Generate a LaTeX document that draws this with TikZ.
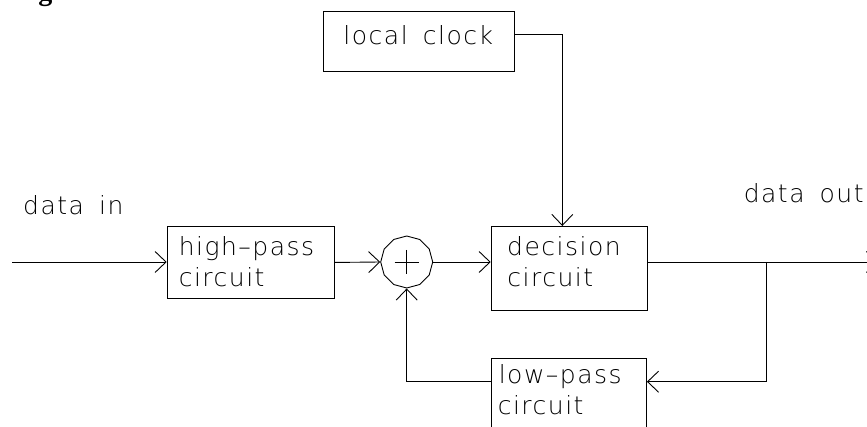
\documentclass[tikz,border=0pt]{standalone}
\usepackage{fontspec}
\usetikzlibrary{arrows.meta,shapes.geometric,calc}
\newfontfamily\cadfont{DejaVu Sans ExtraLight}[LetterSpace=6,WordSpace=1.6]
\newfontfamily\figfont{Liberation Serif}
\begin{document}
\begin{tikzpicture}[x=1pt,y=-1pt,line width=0.9pt,
  box/.style={draw,rectangle,inner sep=0pt,anchor=north west},
  lbl/.style={font=\cadfont\fontsize{25}{29}\selectfont,inner sep=0pt,anchor=base west},
  arr/.style={-{Straight Barb[length=11pt,width=21pt]}},
  sumnode/.style={draw,regular polygon,regular polygon sides=12,shape border rotate=15,minimum size=52pt,inner sep=0pt}]
\useasboundingbox (0,0) rectangle (867,427);
\clip (0,0) rectangle (867,427);

% boxes
\node[box,minimum width=191.6pt,minimum height=60pt] (clock) at (322.7,10.7) {};
\node[box,minimum width=167.3pt,minimum height=72pt] (hp) at (166.7,226) {};
\node[box,minimum width=156pt,minimum height=84pt] (dec) at (490.7,226) {};
\node[box,minimum width=155.3pt,minimum height=90pt] (lp) at (490.7,358.3) {};
\node[sumnode] (sum) at (406.7,262) {};
\draw ($(sum.center)+(-12,0)$) -- ($(sum.center)+(12,0)$);
\draw ($(sum.center)+(0,-12)$) -- ($(sum.center)+(0,12)$);

% texts
\node[font=\figfont\bfseries\fontsize{28}{30}\selectfont,inner sep=0pt,anchor=base west] (figg) at (38,0.5) {g};
\node[lbl] (clockt) at (343,45) {local clock};
\node[lbl] (din) at (22.7,215) {data in};
\node[lbl] (dout) at (743.3,203) {data out};
\node[lbl] (hpa) at (178.3,256) {high–pass};
\node[lbl] (hpb) at (178.3,286.7) {circuit};
\node[lbl] (deca) at (506.7,256) {decision};
\node[lbl] (decb) at (507,286.7) {circuit};
\node[lbl] (lpa) at (498.3,383.3) {low–pass};
\node[lbl] (lpb) at (497.3,414.3) {circuit};

% connectors
\coordinate (in) at (12,262);
\coordinate (outR) at (878,262);
\coordinate (br) at (766.7,262);
\coordinate (ckout) at ($(clock.north east)+(0,23.3)$);
\coordinate (ckin) at ($(dec.north west)+(71.6,0)$);
\coordinate (lpin) at ($(lp.north east)+(0,23.4)$);
\draw[arr] (in) -- (in -| hp.west);
\draw[arr] (hp.east) -- (sum.west);
\draw[arr] (sum.east) -- (sum.east -| dec.west);
\draw[arr] (ckout) -| (ckin);
\draw[arr] (dec.east |- sum.east) -- (outR);
\draw[arr] (br) |- (lpin);
\draw[arr] (lpin -| lp.west) -| (sum.south);
\end{tikzpicture}
\end{document}
